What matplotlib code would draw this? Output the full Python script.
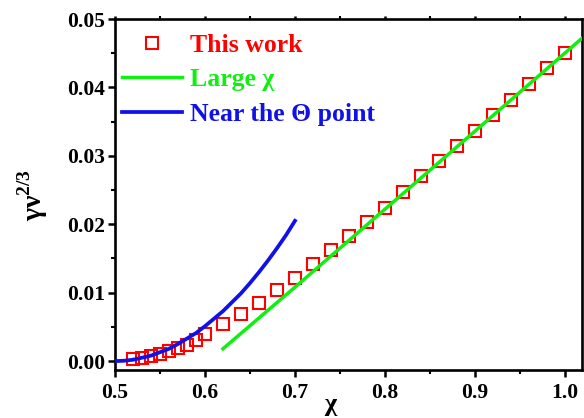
import numpy as np
import matplotlib
matplotlib.use('Agg')
import matplotlib.pyplot as plt
from matplotlib.ticker import MultipleLocator

plt.rcParams['font.family'] = ['Liberation Serif', 'DejaVu Serif']
plt.rcParams['font.weight'] = 'bold'
plt.rcParams['mathtext.fontset'] = 'custom'
plt.rcParams['mathtext.rm'] = 'Liberation Serif'
plt.rcParams['mathtext.bf'] = 'Liberation Serif:bold'

# this work (squares)
chi_work = [0.52, 0.53, 0.54, 0.55, 0.56, 0.57, 0.58, 0.59, 0.60,
            0.62, 0.64, 0.66, 0.68, 0.70, 0.72, 0.74, 0.76, 0.78, 0.80,
            0.82, 0.84, 0.86, 0.88, 0.90, 0.92, 0.94, 0.96, 0.98, 1.00]
y_work = [0.0003, 0.0005, 0.0008, 0.0011, 0.0015, 0.0019, 0.0024, 0.0031, 0.0039,
          0.0054, 0.0069, 0.0085, 0.0104, 0.0122, 0.0142, 0.0163, 0.0183, 0.0204, 0.0224,
          0.0247, 0.0270, 0.0292, 0.0314, 0.0336, 0.0359, 0.0382, 0.0405, 0.0428, 0.0450]

# large chi asymptote
chi_large = [0.62, 0.70, 0.80, 0.90, 1.02]
y_large = [0.0018, 0.0108, 0.0222, 0.0336, 0.0473]

# near the theta point
chi_theta = [0.50, 0.51, 0.52, 0.53, 0.54, 0.55, 0.56, 0.57, 0.58, 0.59, 0.60,
             0.61, 0.62, 0.63, 0.64, 0.65, 0.66, 0.67, 0.68, 0.69, 0.70]
y_theta = [0.0, 0.00005, 0.0002, 0.0005, 0.0008, 0.0013, 0.0018, 0.0025, 0.0033, 0.0041, 0.0051,
           0.0062, 0.0073, 0.0086, 0.0099, 0.0114, 0.0130, 0.0147, 0.0165, 0.0184, 0.0205]

red = '#ff0000'
green = '#10f010'
blue = '#1010e8'

fig = plt.figure(figsize=(5.84, 4.18), dpi=100)
ax = fig.add_axes([115/584, 1 - 370/418, 467/584, 351/418])

ax.plot(chi_work, y_work, 's', mfc='none', mec=red, ms=9, mew=1.5,
        label='This work', zorder=3)
ax.plot(chi_large, y_large, '-', color=green, lw=2.5, label='Large χ', zorder=4)
ax.plot(chi_theta, y_theta, '-', color=blue, lw=2.7, label='Near the Θ point', zorder=4)

ax.set_xlim(0.5, 1.019)
ax.set_ylim(-0.0013, 0.05)
ax.xaxis.set_major_locator(MultipleLocator(0.1))
ax.xaxis.set_minor_locator(MultipleLocator(0.05))
ax.yaxis.set_major_locator(MultipleLocator(0.01))
ax.yaxis.set_minor_locator(MultipleLocator(0.005))
ax.xaxis.set_major_formatter(plt.FuncFormatter(lambda v, p: '%.1f' % v))
ax.yaxis.set_major_formatter(plt.FuncFormatter(lambda v, p: '%.2f' % v))

for s in ax.spines.values():
    s.set_linewidth(1.9)
ax.tick_params(which='major', direction='out', length=5, width=1.8, labelsize=15.5)
ax.tick_params(which='minor', direction='out', length=3, width=1.5)
ax.tick_params(axis='y', which='both', pad=2)
ax.tick_params(axis='x', which='both', pad=4)
ax.tick_params(axis='x', which='both', top=True, labeltop=False)
for t in ax.xaxis.get_ticklines(minor=False)[1::2] + ax.xaxis.get_ticklines(minor=True)[1::2]:
    t.set_markersize(2)
    t.set_color('#888888')
for lab in ax.get_xticklabels() + ax.get_yticklabels():
    lab.set_fontweight('bold')

ax.set_xlabel('χ', fontsize=19, fontweight='bold')
ax.xaxis.set_label_coords(0.46, -0.065)
ax.set_ylabel(r'$\mathbf{γν}^{\mathbf{2/3}}$', fontsize=20, labelpad=12)

leg = ax.legend(loc='upper left', bbox_to_anchor=(-0.018, 1.0), frameon=False,
                fontsize=18.5, handlelength=2.35, handletextpad=0.28,
                labelspacing=0.43, numpoints=1, borderaxespad=0.2)
for txt, c in zip(leg.get_texts(), [red, green, blue]):
    txt.set_color(c)
    txt.set_fontweight('bold')

fig.savefig('out.png', dpi=100)
